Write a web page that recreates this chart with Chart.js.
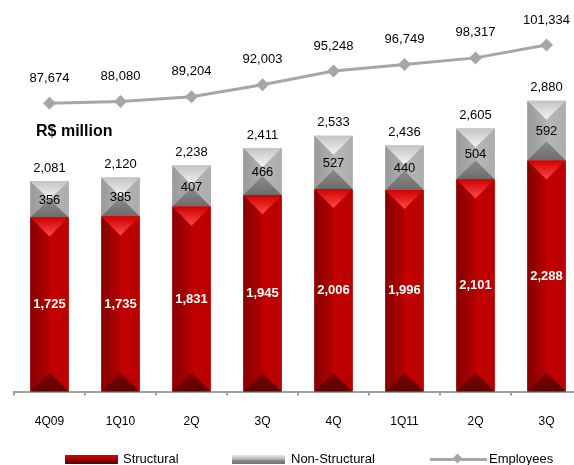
<!DOCTYPE html>
<html>
<head>
<meta charset="utf-8">
<script src="https://cdn.jsdelivr.net/npm/chart.js@4.4.1/dist/chart.umd.min.js"></script>
<style>
  body { margin: 0; background: #fff; font-family: "Liberation Sans", Arial, sans-serif; }
  #wrap { position: relative; width: 574px; height: 465px; overflow: hidden; }
  #plot { position: absolute; left: 0; top: 0; width: 590px; height: 465px; }
  .legend { position: absolute; top: 452px; height: 14px; font-size: 13px; color: #000; }
  .legend span { position: absolute; white-space: nowrap; top: 0; line-height: 14px; }
  .box { position: absolute; top: 3px; height: 9px; width: 53px; }
  #lgRed { left: 65px; background: linear-gradient(#d40000, #b00000 45%, #7a0000 60%, #5a0000); }
  #lgGray { left: 232px; background: linear-gradient(#e8e8e8, #b8b8b8 45%, #8a8a8a 60%, #707070); }
  #lgLine { left: 430px; top: 6px; width: 57px; height: 3px; background: #a6a6a6; }
  #lgDot { left: 454px; top: 3px; width: 7px; height: 7px; background: #a6a6a6; transform: rotate(45deg); }
</style>
</head>
<body>
<div id="wrap">
  <div id="plot"><canvas id="myChart"></canvas></div>
  <div class="legend" style="left:0;width:574px">
    <div class="box" id="lgRed"></div><span style="left:123px">Structural</span>
    <div class="box" id="lgGray"></div><span style="left:291px">Non-Structural</span>
    <div class="box" id="lgLine"></div><div class="box" id="lgDot"></div><span style="left:489px">Employees</span>
  </div>
</div>
<script>
var categories = ['4Q09', '1Q10', '2Q', '3Q', '4Q', '1Q11', '2Q', '3Q']
var structural = [1725, 1735, 1831, 1945, 2006, 1996, 2101, 2288]
var nonStructural = [356, 385, 407, 466, 527, 440, 504, 592]
var employees = [87674, 88080, 89204, 92003, 95248, 96749, 98317, 101334]

Chart.defaults.font.family = '"Liberation Sans", Arial, sans-serif'
Chart.defaults.color = '#000'

function fmt(v) {
    return v.toLocaleString('en-US')
}

// shading for the four faces of each bevelled bar segment
var redFaces = {
    left: ['#860000', '#b40000'],
    right: ['#c40000', '#b80000'],
    top: ['#d00000', '#ff4a4a'],
    bottom: ['#840000', '#5a0000']
}
var grayFaces = {
    left: ['#9a9a9a', '#b0b0b0'],
    right: ['#b8b8b8', '#acacac'],
    top: ['#c4c4c4', '#f4f4f4'],
    bottom: ['#8c8c8c', '#6c6c6c']
}

function poly(ctx, pts, fill) {
    ctx.beginPath()
    ctx.moveTo(pts[0][0], pts[0][1])
    for (var i = 1; i < pts.length; i++) ctx.lineTo(pts[i][0], pts[i][1])
    ctx.closePath()
    ctx.fillStyle = fill
    ctx.fill()
}

function grad(ctx, x0, y0, x1, y1, c) {
    var g = ctx.createLinearGradient(x0, y0, x1, y1)
    g.addColorStop(0, c[0])
    g.addColorStop(1, c[1])
    return g
}

function drawBevel(ctx, bar, f) {
    var p = bar.getProps(['x', 'y', 'base', 'width'], true)
    var l = p.x - p.width / 2, r = p.x + p.width / 2
    var t = Math.min(p.y, p.base), b = Math.max(p.y, p.base)
    var d = Math.min(p.width / 2, (b - t) / 2)
    poly(ctx, [[l, t], [p.x, t + d], [p.x, b - d], [l, b]], grad(ctx, l, 0, p.x, 0, f.left))
    poly(ctx, [[p.x, t + d], [r, t], [r, b], [p.x, b - d]], grad(ctx, p.x, 0, r, 0, f.right))
    poly(ctx, [[l, t], [r, t], [p.x, t + d]], grad(ctx, 0, t, 0, t + d, f.top))
    poly(ctx, [[l, b], [p.x, b - d], [r, b]], grad(ctx, 0, b - d, 0, b, f.bottom))
}

var bevelPlugin = {
    id: 'bevel',
    afterDatasetDraw: function(chart, args) {
        if (args.meta.type !== 'bar') return
        var ctx = chart.ctx
        var faces = args.index === 0 ? redFaces : grayFaces
        ctx.save()
        args.meta.data.forEach(function(bar) { drawBevel(ctx, bar, faces) })
        ctx.restore()
    }
}

var labelPlugin = {
    id: 'valueLabels',
    afterDatasetsDraw: function(chart) {
        var ctx = chart.ctx
        var red = chart.getDatasetMeta(0).data
        var gray = chart.getDatasetMeta(1).data
        var line = chart.getDatasetMeta(2).data
        ctx.save()
        ctx.textAlign = 'center'
        ctx.textBaseline = 'middle'
        red.forEach(function(bar, i) {
            ctx.font = 'bold 13px "Liberation Sans", Arial, sans-serif'
            ctx.fillStyle = '#fff'
            ctx.fillText(fmt(structural[i]), bar.x, (bar.y + bar.base) / 2)
        })
        gray.forEach(function(bar, i) {
            ctx.font = '13px "Liberation Sans", Arial, sans-serif'
            ctx.fillStyle = '#000'
            ctx.fillText(fmt(nonStructural[i]), bar.x, (bar.y + bar.base) / 2 + 1)
            ctx.fillText(fmt(structural[i] + nonStructural[i]), bar.x, bar.y - 13)
        })
        line.forEach(function(pt, i) {
            ctx.fillText(fmt(employees[i]), pt.x, pt.y - 25)
        })
        ctx.font = 'bold 16px "Liberation Sans", Arial, sans-serif'
        ctx.textAlign = 'left'
        ctx.fillText('R$ million', 36, 132)
        ctx.restore()
    }
}

var ctx = document.getElementById('myChart').getContext('2d')

var myChart = new Chart(ctx, {
    type: 'bar',
    data: {
        labels: categories,
        datasets: [{
            label: 'Structural',
            data: structural,
            backgroundColor: '#c00000',
            order: 1
        }, {
            label: 'Non-Structural',
            data: nonStructural,
            backgroundColor: '#b0b0b0',
            order: 1
        }, {
            type: 'line',
            label: 'Employees',
            data: employees,
            yAxisID: 'y2',
            borderColor: '#a6a6a6',
            borderWidth: 3,
            pointStyle: 'rectRot',
            pointRadius: 6.5,
            pointBackgroundColor: '#a6a6a6',
            pointBorderWidth: 0,
            tension: 0,
            order: 0
        }]
    },
    options: {
        responsive: true,
        maintainAspectRatio: false,
        animation: false,
        datasets: {
            bar: { categoryPercentage: 1, barPercentage: 0.54 }
        },
        // right edge of the last category runs past the visible area
        layout: { padding: { left: 14, right: 8, top: 10, bottom: 17 } },
        plugins: {
            legend: { display: false },
            tooltip: { enabled: false }
        },
        scales: {
            x: {
                stacked: true,
                grid: { drawOnChartArea: false, drawTicks: true, tickLength: 4, color: '#a0a0a0', lineWidth: 2 },
                border: { color: '#a0a0a0', width: 2 },
                ticks: { font: { size: 12 }, padding: 19, color: '#000' }
            },
            y: {
                stacked: true,
                display: false,
                min: 0,
                max: 3777
            },
            y2: {
                display: false,
                min: 20148,
                max: 109534
            }
        }
    },
    plugins: [bevelPlugin, labelPlugin]
})
</script>
</body>
</html>
